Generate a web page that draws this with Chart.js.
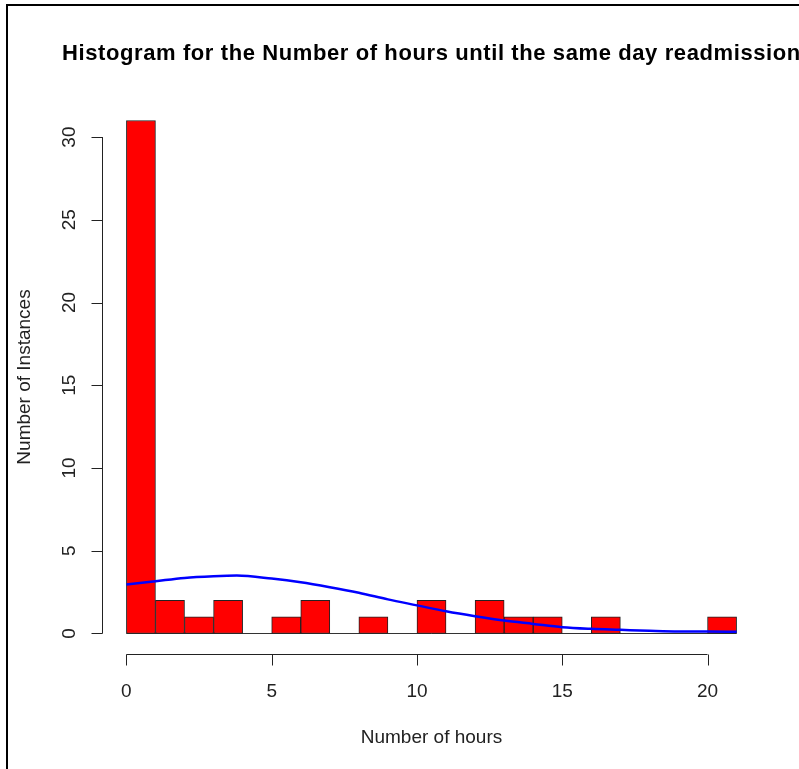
<!DOCTYPE html>
<html>
<head>
<meta charset="utf-8">
<script src="https://cdn.jsdelivr.net/npm/chart.js"></script>
<style>
  html, body { margin: 0; padding: 0; background: #fff; overflow: hidden; }
  canvas { display: block; }
</style>
</head>
<body>
<canvas id="myChart" width="799" height="769"></canvas>

<script>
// histogram bins (width 1 hour), bin centres and counts
const binCentres = [0.5, 1.5, 2.5, 3.5, 4.5, 5.5, 6.5, 7.5, 8.5, 9.5, 10.5,
                    11.5, 12.5, 13.5, 14.5, 15.5, 16.5, 17.5, 18.5, 19.5, 20.5];
const counts = [31, 2, 1, 2, 0, 1, 2, 0, 1, 0, 2, 0, 2, 1, 1, 0, 1, 0, 0, 0, 1];

// scaled density curve
const curveX = [0, 1, 2, 3, 3.8, 5, 6, 7, 8, 9, 10, 11, 12, 13, 14, 15, 16, 17, 18, 19, 20, 21];
const curveY = [2.96, 3.16, 3.36, 3.46, 3.5, 3.32, 3.1, 2.8, 2.46, 2.06, 1.7, 1.34,
                1.04, 0.78, 0.58, 0.38, 0.28, 0.22, 0.16, 0.12, 0.12, 0.1];

const xTicks = [0, 5, 10, 15, 20];
const yTicks = [0, 5, 10, 15, 20, 25, 30];

const titleText = 'Histogram for the Number of hours until the same day readmission';
const xTitle = 'Number of hours';
const yTitle = 'Number of Instances';

const FONT = '"Liberation Sans", Arial, sans-serif';

const rAxes = {
  id: 'rAxes',
  beforeDraw(chart) {
    const ctx = chart.ctx;
    ctx.save();
    ctx.fillStyle = '#fff';
    ctx.fillRect(0, 0, chart.width, chart.height);
    // frame of the screenshot
    ctx.fillStyle = '#000';
    ctx.fillRect(6, 4, chart.width - 6, 2);
    ctx.fillRect(6, 4, 2, chart.height - 4);
    ctx.restore();
  },
  beforeDatasetsDraw(chart) {
    const ctx = chart.ctx, x = chart.scales.x, y = chart.scales.y;
    ctx.save();
    ctx.strokeStyle = '#333';
    ctx.lineWidth = 1;
    ctx.beginPath();
    ctx.moveTo(x.getPixelForValue(0), Math.round(y.getPixelForValue(0)) + 0.5);
    ctx.lineTo(x.getPixelForValue(21), Math.round(y.getPixelForValue(0)) + 0.5);
    ctx.stroke();
    ctx.restore();
  },
  afterDraw(chart) {
    const ctx = chart.ctx, x = chart.scales.x, y = chart.scales.y;
    const area = chart.chartArea;
    ctx.save();
    ctx.strokeStyle = '#222';
    ctx.lineWidth = 1;
    ctx.fillStyle = '#222';

    // x axis
    const ay = Math.round(area.bottom) + 0.5;
    ctx.beginPath();
    ctx.moveTo(x.getPixelForValue(xTicks[0]), ay);
    ctx.lineTo(x.getPixelForValue(xTicks[xTicks.length - 1]), ay);
    xTicks.forEach(t => {
      const px = Math.round(x.getPixelForValue(t)) + 0.5;
      ctx.moveTo(px, ay);
      ctx.lineTo(px, ay + 11);
    });
    ctx.stroke();
    ctx.font = '19px ' + FONT;
    ctx.textAlign = 'center';
    ctx.textBaseline = 'alphabetic';
    xTicks.forEach(t => ctx.fillText(String(t), x.getPixelForValue(t), 697));
    ctx.fillText(xTitle, (area.left + area.right) / 2, 743);

    // y axis
    const ax = Math.round(area.left) + 0.5;
    ctx.beginPath();
    ctx.moveTo(ax, y.getPixelForValue(yTicks[0]));
    ctx.lineTo(ax, y.getPixelForValue(yTicks[yTicks.length - 1]));
    yTicks.forEach(t => {
      const py = Math.round(y.getPixelForValue(t)) + 0.5;
      ctx.moveTo(ax, py);
      ctx.lineTo(ax - 11, py);
    });
    ctx.stroke();
    yTicks.forEach(t => {
      ctx.save();
      ctx.translate(75, y.getPixelForValue(t));
      ctx.rotate(-Math.PI / 2);
      ctx.fillText(String(t), 0, 0);
      ctx.restore();
    });
    ctx.save();
    ctx.translate(30, (area.top + area.bottom) / 2);
    ctx.rotate(-Math.PI / 2);
    ctx.fillText(yTitle, 0, 0);
    ctx.restore();

    // main title
    ctx.fillStyle = '#000';
    ctx.font = 'bold 22px ' + FONT;
    ctx.textAlign = 'left';
    ctx.letterSpacing = '0.6px';
    ctx.fillText(titleText, 62, 60);
    ctx.restore();
  }
};

new Chart(document.getElementById('myChart'), {
  type: 'bar',
  data: {
    datasets: [
      {
        type: 'line',
        data: curveX.map((v, i) => ({ x: v, y: curveY[i] })),
        borderColor: '#0000ff',
        borderWidth: 2.5,
        pointRadius: 0,
        tension: 0.4,
        cubicInterpolationMode: 'monotone',
        fill: false,
        order: 0
      },
      {
        type: 'bar',
        data: binCentres.map((v, i) => ({ x: v, y: counts[i] })),
        backgroundColor: '#ff0000',
        borderColor: '#222',
        borderWidth: 1,
        borderSkipped: false,
        barPercentage: 1,
        categoryPercentage: 1,
        order: 1
      }
    ]
  },
  options: {
    responsive: false,
    animation: false,
    devicePixelRatio: 1,
    layout: { padding: { left: 102, right: 38, top: 100, bottom: 115 } },
    plugins: { legend: { display: false }, tooltip: { enabled: false }, title: { display: false } },
    scales: {
      x: { type: 'linear', min: -0.84, max: 21.84, offset: false, display: false },
      y: { type: 'linear', min: -1.24, max: 32.24, display: false }
    }
  },
  plugins: [rAxes]
});
</script>
</body>
</html>
